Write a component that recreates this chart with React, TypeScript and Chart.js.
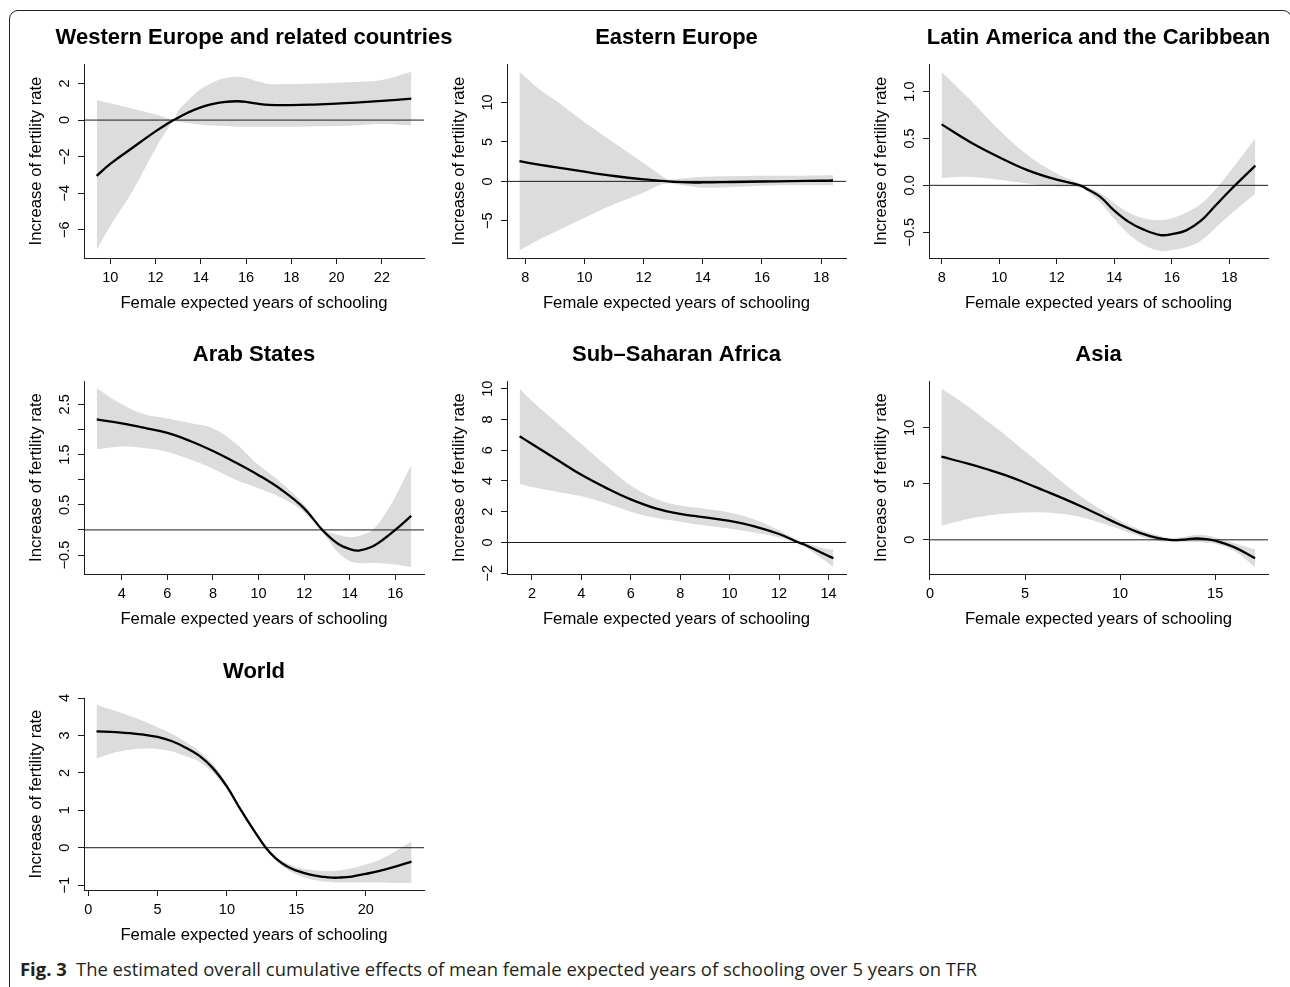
import React, { useEffect, useRef } from "react";
import { Chart, registerables } from "chart.js";

Chart.register(...registerables);

const FONT = '"Liberation Sans", Arial, Helvetica, sans-serif';
const AXIS = "#1c1c1c";
const BAND = "#dcdcdc";
const X_TITLE = "Female expected years of schooling";
const Y_TITLE = "Increase of fertility rate";

// ---------- Western Europe and related countries ----------
const weX = [9.4, 10, 11, 12, 12.5, 12.8, 13, 13.5, 14, 14.5, 15, 15.6, 16, 16.5, 17, 18, 19, 20, 21, 22, 23.3];
const weFit = [-3.05, -2.4, -1.5, -0.62, -0.22, 0.0, 0.13, 0.45, 0.7, 0.87, 0.98, 1.03, 1.0, 0.9, 0.83, 0.82, 0.85, 0.9, 0.97, 1.05, 1.17];
const weUpper = [1.1, 0.92, 0.62, 0.3, 0.12, 0.05, 0.5, 1.15, 1.7, 2.05, 2.28, 2.37, 2.3, 2.12, 1.98, 1.97, 2.0, 2.05, 2.1, 2.2, 2.65];
const weLower = [-7.1, -5.8, -3.85, -1.55, -0.55, -0.05, -0.08, -0.18, -0.25, -0.3, -0.33, -0.36, -0.36, -0.36, -0.36, -0.36, -0.35, -0.33, -0.28, -0.22, -0.3];
const weXTicks = [10, 12, 14, 16, 18, 20, 22];
const weXLabels = ["10", "12", "14", "16", "18", "20", "22"];
const weYTicks = [-6, -4, -2, 0, 2];
const weYLabels = ["\u22126", "\u22124", "\u22122", "0", "2"];
const weXRange = [8.84, 23.86];
const weYRange = [-7.55, 3.07];

// ---------- Eastern Europe ----------
const eeX = [7.8, 8.5, 9, 10, 11, 12, 12.5, 12.8, 13, 13.5, 14, 15, 16, 17, 18, 18.4];
const eeFit = [2.55, 2.1, 1.8, 1.22, 0.68, 0.25, 0.1, 0.0, -0.05, -0.12, -0.14, -0.08, -0.02, 0.03, 0.08, 0.12];
const eeUpper = [13.9, 11.6, 10.3, 7.5, 4.9, 2.3, 1.0, 0.3, 0.25, 0.45, 0.6, 0.65, 0.7, 0.72, 0.75, 0.76];
const eeLower = [-8.75, -7.3, -6.4, -4.6, -2.9, -1.4, -0.55, -0.25, -0.3, -0.6, -0.8, -0.7, -0.55, -0.5, -0.5, -0.5];
const eeXTicks = [8, 10, 12, 14, 16, 18];
const eeXLabels = ["8", "10", "12", "14", "16", "18"];
const eeYTicks = [-5, 0, 5, 10];
const eeYLabels = ["\u22125", "0", "5", "10"];
const eeXRange = [7.38, 18.84];
const eeYRange = [-9.71, 14.87];

// ---------- Latin America and the Caribbean ----------
const laX = [8, 9, 10, 11, 12, 12.8, 13, 13.5, 14, 14.5, 15, 15.6, 16, 16.5, 17, 17.5, 18, 18.9];
const laFit = [0.65, 0.46, 0.3, 0.16, 0.06, 0.0, -0.03, -0.12, -0.27, -0.39, -0.47, -0.53, -0.52, -0.48, -0.38, -0.22, -0.06, 0.21];
const laUpper = [1.21, 0.91, 0.59, 0.32, 0.125, 0.02, -0.01, -0.08, -0.19, -0.29, -0.35, -0.37, -0.35, -0.29, -0.2, -0.05, 0.14, 0.5];
const laLower = [0.08, 0.09, 0.06, 0.02, -0.01, -0.02, -0.05, -0.18, -0.36, -0.52, -0.63, -0.7, -0.69, -0.66, -0.59, -0.46, -0.32, -0.09];
const laXTicks = [8, 10, 12, 14, 16, 18];
const laXLabels = ["8", "10", "12", "14", "16", "18"];
const laYTicks = [-0.5, 0, 0.5, 1.0];
const laYLabels = ["\u22120.5", "0.0", "0.5", "1.0"];
const laXRange = [7.56, 19.34];
const laYRange = [-0.775, 1.294];

// ---------- Arab States ----------
const arX = [2.9, 4, 5, 6, 7, 8, 9, 10, 11, 12, 12.8, 13.5, 14, 14.4, 15, 15.5, 16, 16.7];
const arFit = [2.2, 2.12, 2.03, 1.93, 1.77, 1.57, 1.34, 1.09, 0.8, 0.43, 0.0, -0.28, -0.38, -0.41, -0.33, -0.18, 0.0, 0.28];
const arUpper = [2.82, 2.5, 2.3, 2.22, 2.13, 2.02, 1.72, 1.29, 0.94, 0.5, 0.03, -0.1, -0.14, -0.12, 0.0, 0.28, 0.66, 1.29];
const arLower = [1.6, 1.66, 1.63, 1.55, 1.4, 1.22, 1.0, 0.83, 0.64, 0.35, -0.05, -0.45, -0.62, -0.66, -0.66, -0.67, -0.69, -0.74];
const arXTicks = [4, 6, 8, 10, 12, 14, 16];
const arXLabels = ["4", "6", "8", "10", "12", "14", "16"];
const arYTicks = [-0.5, 0, 0.5, 1.0, 1.5, 2.0, 2.5];
const arYLabels = ["\u22120.5", "", "0.5", "", "1.5", "", "2.5"];
const arXRange = [2.34, 17.26];
const arYRange = [-0.877, 2.964];

// ---------- Sub-Saharan Africa ----------
const ssX = [1.5, 2, 3, 4, 5, 6, 7, 8, 9, 10, 11, 12, 12.8, 13, 14, 14.2];
const ssFit = [6.91, 6.4, 5.4, 4.4, 3.55, 2.8, 2.22, 1.86, 1.63, 1.4, 1.05, 0.55, 0.0, -0.12, -0.88, -1.03];
const ssUpper = [10.0, 9.2, 7.8, 6.4, 5.0, 3.7, 2.85, 2.4, 2.2, 1.95, 1.5, 0.8, 0.12, 0.02, -0.45, -0.45];
const ssLower = [3.8, 3.6, 3.3, 3.0, 2.55, 2.0, 1.6, 1.35, 1.1, 0.9, 0.65, 0.32, -0.12, -0.25, -1.35, -1.6];
const ssXTicks = [2, 4, 6, 8, 10, 12, 14];
const ssXLabels = ["2", "4", "6", "8", "10", "12", "14"];
const ssYTicks = [-2, 0, 2, 4, 6, 8, 10];
const ssYLabels = ["\u22122", "0", "2", "4", "6", "8", "10"];
const ssXRange = [0.99, 14.71];
const ssYRange = [-2.05, 10.5];

// ---------- Asia ----------
const asX = [0.6, 2, 3, 4, 5, 6, 7, 8, 9, 10, 11, 12, 12.6, 13, 13.5, 14, 14.5, 15, 16, 17.1];
const asFit = [7.42, 6.8, 6.3, 5.75, 5.1, 4.4, 3.7, 2.95, 2.15, 1.35, 0.65, 0.15, 0.0, -0.02, 0.05, 0.12, 0.07, -0.08, -0.65, -1.65];
const asUpper = [13.5, 11.9, 10.6, 9.3, 7.9, 6.5, 5.1, 3.8, 2.7, 1.7, 0.95, 0.4, 0.15, 0.18, 0.3, 0.45, 0.4, 0.2, -0.3, -0.85];
const asLower = [1.25, 1.85, 2.15, 2.35, 2.45, 2.45, 2.3, 2.0, 1.5, 0.95, 0.35, -0.1, -0.15, -0.2, -0.2, -0.2, -0.25, -0.35, -1.0, -2.43];
const asXTicks = [0, 5, 10, 15];
const asXLabels = ["0", "5", "10", "15"];
const asYTicks = [0, 5, 10];
const asYLabels = ["0", "5", "10"];
const asXRange = [-0.05, 17.78];
const asYRange = [-3.05, 14.18];

// ---------- World ----------
const wdX = [0.6, 2, 3, 4, 5, 6, 7, 8, 9, 10, 11, 12, 12.8, 13.5, 14, 14.5, 15, 16, 17, 17.6, 18, 19, 20, 21, 22, 23.3];
const wdFit = [3.11, 3.09, 3.06, 3.02, 2.96, 2.85, 2.68, 2.46, 2.12, 1.63, 1.01, 0.43, 0.0, -0.28, -0.42, -0.53, -0.61, -0.72, -0.78, -0.8, -0.8, -0.77, -0.7, -0.62, -0.52, -0.37];
const wdUpper = [3.82, 3.65, 3.52, 3.38, 3.22, 3.05, 2.83, 2.58, 2.22, 1.7, 1.06, 0.47, 0.03, -0.24, -0.36, -0.45, -0.52, -0.59, -0.62, -0.62, -0.61, -0.55, -0.45, -0.32, -0.13, 0.18];
const wdLower = [2.38, 2.55, 2.62, 2.65, 2.64, 2.58, 2.45, 2.3, 2.0, 1.55, 0.95, 0.38, -0.04, -0.33, -0.49, -0.62, -0.71, -0.84, -0.9, -0.92, -0.93, -0.93, -0.93, -0.93, -0.94, -0.94];
const wdXTicks = [0, 5, 10, 15, 20];
const wdXLabels = ["0", "5", "10", "15", "20"];
const wdYTicks = [-1, 0, 1, 2, 3, 4];
const wdYLabels = ["\u22121", "0", "1", "2", "3", "4"];
const wdXRange = [-0.3, 24.2];
const wdYRange = [-1.13, 4.0];

type Spec = {
  title: string;
  xs: number[];
  fit: number[];
  upper: number[];
  lower: number[];
  xTicks: number[];
  xLabels: string[];
  yTicks: number[];
  yLabels: string[];
  xRange: number[];
  yRange: number[];
  col: number;
  row: number;
};

const PANELS: Spec[] = [
  { title: "Western Europe and related countries", xs: weX, fit: weFit, upper: weUpper, lower: weLower, xTicks: weXTicks, xLabels: weXLabels, yTicks: weYTicks, yLabels: weYLabels, xRange: weXRange, yRange: weYRange, col: 0, row: 0 },
  { title: "Eastern Europe", xs: eeX, fit: eeFit, upper: eeUpper, lower: eeLower, xTicks: eeXTicks, xLabels: eeXLabels, yTicks: eeYTicks, yLabels: eeYLabels, xRange: eeXRange, yRange: eeYRange, col: 1, row: 0 },
  { title: "Latin America and the Caribbean", xs: laX, fit: laFit, upper: laUpper, lower: laLower, xTicks: laXTicks, xLabels: laXLabels, yTicks: laYTicks, yLabels: laYLabels, xRange: laXRange, yRange: laYRange, col: 2, row: 0 },
  { title: "Arab States", xs: arX, fit: arFit, upper: arUpper, lower: arLower, xTicks: arXTicks, xLabels: arXLabels, yTicks: arYTicks, yLabels: arYLabels, xRange: arXRange, yRange: arYRange, col: 0, row: 1 },
  { title: "Sub\u2013Saharan Africa", xs: ssX, fit: ssFit, upper: ssUpper, lower: ssLower, xTicks: ssXTicks, xLabels: ssXLabels, yTicks: ssYTicks, yLabels: ssYLabels, xRange: ssXRange, yRange: ssYRange, col: 1, row: 1 },
  { title: "Asia", xs: asX, fit: asFit, upper: asUpper, lower: asLower, xTicks: asXTicks, xLabels: asXLabels, yTicks: asYTicks, yLabels: asYLabels, xRange: asXRange, yRange: asYRange, col: 2, row: 1 },
  { title: "World", xs: wdX, fit: wdFit, upper: wdUpper, lower: wdLower, xTicks: wdXTicks, xLabels: wdXLabels, yTicks: wdYTicks, yLabels: wdYLabels, xRange: wdXRange, yRange: wdYRange, col: 0, row: 2 },
];

// layout of plot regions (page pixels)
const PLOT_L = [84, 507, 929];
const PLOT_R = [424, 846, 1268];
const CANVAS_R = [452, 868, 1288];
const PLOT_T = [64, 381, 698];
const PLOT_B = [258, 574, 890];
const Y_BOX = 60;
const X_BOX = 60;
const TOP_PAD = 54;

const TICK_SIZE = 14.5;
const TITLE_SIZE = 16.7;
const TENSION = 0.4;

const titlePlugin = {
  id: "panelTitle",
  afterDraw(chart: any, _args: any, opts: any) {
    const { ctx, chartArea } = chart;
    ctx.save();
    ctx.font = `bold 22px ${FONT}`;
    ctx.fillStyle = "#000";
    ctx.textAlign = "center";
    ctx.textBaseline = "middle";
    ctx.fillText(opts.text, (chartArea.left + chartArea.right) / 2, chartArea.top - opts.offset);
    ctx.restore();
  },
};

function Panel({ spec }: { spec: Spec }) {
  const ref = useRef<HTMLCanvasElement>(null);
  const left = PLOT_L[spec.col] - Y_BOX;
  const width = CANVAS_R[spec.col] - left;
  const top = PLOT_T[spec.row] - TOP_PAD;
  const height = PLOT_B[spec.row] + X_BOX - top;
  const padRight = CANVAS_R[spec.col] - PLOT_R[spec.col];

  useEffect(() => {
    const canvas = ref.current;
    if (!canvas) return;
    const pts = (ys: number[]) => spec.xs.map((x, i) => ({ x, y: ys[i] }));
    const m = document.createElement("canvas").getContext("2d")!;
    m.font = `${TICK_SIZE}px ${FONT}`;
    const widest = Math.max(...spec.yLabels.map((s) => m.measureText(s).width));
    const yPad = 19.5 - 6 - widest / 2;
    const tickFont = { family: FONT, size: TICK_SIZE };
    const titleFont = { family: FONT, size: TITLE_SIZE };
    const grid = { display: true, drawOnChartArea: false, drawTicks: true, tickLength: 6, tickColor: AXIS, tickWidth: 1 };
    const border = { display: true, color: AXIS, width: 1 };

    const chart = new Chart(canvas, {
      type: "line",
      data: {
        datasets: [
          { data: pts(spec.upper), borderColor: "rgba(0,0,0,0)", borderWidth: 0, pointRadius: 0, backgroundColor: BAND, fill: "+1", tension: TENSION, order: 3 },
          { data: pts(spec.lower), borderColor: "rgba(0,0,0,0)", borderWidth: 0, pointRadius: 0, fill: false, tension: TENSION, order: 3 },
          { data: [{ x: spec.xRange[0], y: 0 }, { x: spec.xRange[1], y: 0 }], borderColor: AXIS, borderWidth: 1, pointRadius: 0, fill: false, order: 2 },
          { data: pts(spec.fit), borderColor: "#000", borderWidth: 2.3, pointRadius: 0, fill: false, tension: TENSION, order: 1 },
        ],
      } as any,
      options: {
        animation: false,
        responsive: false,
        maintainAspectRatio: false,
        events: [],
        layout: { padding: { left: 0, right: padRight, top: TOP_PAD, bottom: 0 } },
        plugins: {
          legend: { display: false },
          tooltip: { enabled: false },
          filler: { drawTime: "beforeDatasetsDraw", propagate: false },
          panelTitle: { text: spec.title, offset: 26 },
        } as any,
        scales: {
          x: {
            type: "linear",
            min: spec.xRange[0],
            max: spec.xRange[1],
            afterFit: (s: any) => { s.height = X_BOX; },
            afterBuildTicks: (s: any) => { s.ticks = spec.xTicks.map((v) => ({ value: v })); },
            ticks: { autoSkip: false, minRotation: 0, maxRotation: 0, padding: 4.9, color: "#000", font: tickFont, callback: (_v: any, i: number) => spec.xLabels[i] },
            grid,
            border,
            title: { display: true, text: X_TITLE, color: "#000", font: titleFont, padding: { top: 0, bottom: 4.4 } },
          },
          y: {
            type: "linear",
            min: spec.yRange[0],
            max: spec.yRange[1],
            afterFit: (s: any) => { s.width = Y_BOX; },
            afterBuildTicks: (s: any) => { s.ticks = spec.yTicks.map((v) => ({ value: v })); },
            ticks: { autoSkip: false, minRotation: 90, maxRotation: 90, crossAlign: "center", padding: yPad, color: "#000", font: tickFont, callback: (_v: any, i: number) => spec.yLabels[i] },
            grid,
            border,
            title: { display: true, text: Y_TITLE, color: "#000", font: titleFont, padding: { top: 2.4, bottom: 0 } },
          },
        } as any,
      },
      plugins: [titlePlugin as any],
    });
    return () => chart.destroy();
  }, [spec]);

  return (
    <canvas
      ref={ref}
      width={width}
      height={height}
      style={{ position: "absolute", left, top, width, height }}
    />
  );
}

export default function App() {
  return (
    <div style={{ position: "absolute", left: 0, top: 0, width: 1290, height: 987, overflow: "hidden", background: "#fff" }}>
      <div
        style={{
          position: "absolute",
          left: 9,
          top: 10,
          width: 1283,
          height: 1100,
          border: "1px solid #231f20",
          borderRadius: 9,
          boxSizing: "border-box",
        }}
      />
      {PANELS.map((p) => (
        <Panel key={p.title} spec={p} />
      ))}
      <div
        style={{
          position: "absolute",
          left: 20,
          top: 957,
          whiteSpace: "nowrap",
          fontFamily: '"Open Sans", "Noto Sans", sans-serif',
          fontSize: 18.45,
          lineHeight: "24px",
          color: "#231f20",
        }}
      >
        <span style={{ fontWeight: 700 }}>Fig. 3</span>
        <span>{"\u2002The estimated overall cumulative effects of mean female expected years of schooling over 5 years on TFR"}</span>
      </div>
    </div>
  );
}
